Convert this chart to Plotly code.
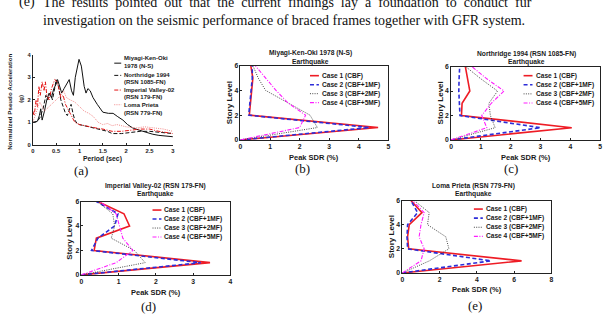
import plotly.graph_objects as go

W, H = 612, 317

# ---------------- Panel (a) data: normalized pseudo acceleration spectra ----------------
per_miyagi = [0, 0.05, 0.1, 0.14, 0.17, 0.2, 0.25, 0.3, 0.35, 0.4, 0.45, 0.5, 0.53, 0.58, 0.62, 0.67,
              0.72, 0.78, 0.83, 0.87, 0.91, 0.95, 0.99, 1.04, 1.1, 1.14, 1.18, 1.23, 1.29, 1.38, 1.44,
              1.5, 1.62, 1.72, 1.82, 1.93, 2.03, 2.14, 2.28, 2.43, 2.57, 2.7, 2.85, 3.0]
sa_miyagi = [1.0, 1.0, 1.05, 1.3, 1.6, 1.1, 1.5, 2.0, 2.3, 2.1, 2.5, 2.7, 2.9, 2.5, 2.3, 2.5,
             2.7, 2.9, 2.4, 2.2, 3.0, 3.4, 3.8, 3.5, 2.6, 2.3, 2.5, 2.4, 2.1, 1.8, 1.6,
             1.45, 1.4, 1.4, 1.25, 1.1, 0.9, 0.75, 0.65, 0.55, 0.47, 0.42, 0.38, 0.36]

per_north = [0, 0.1, 0.15, 0.22, 0.28, 0.32, 0.38, 0.42, 0.46, 0.5, 0.55, 0.6, 0.65, 0.7, 0.74,
             0.78, 0.82, 0.86, 0.9, 0.95, 1.0, 1.1, 1.2, 1.3, 1.4, 1.5, 1.6, 1.7, 1.9, 2.1, 2.3,
             2.5, 2.7, 3.0]
sa_north = [1.0, 1.05, 1.2, 1.6, 2.2, 2.0, 2.3, 2.0, 2.4, 2.9, 2.6, 2.0, 1.7, 1.4, 1.3,
            1.6, 1.8, 1.4, 1.1, 0.95, 0.9, 0.85, 0.8, 0.75, 0.7, 0.65, 0.6, 0.5, 0.5, 0.55, 0.6,
            0.6, 0.55, 0.5]

per_imp = [0, 0.03, 0.07, 0.1, 0.13, 0.16, 0.2, 0.24, 0.27, 0.3, 0.35, 0.4, 0.47, 0.52, 0.56,
           0.6, 0.65, 0.7, 0.75, 0.82, 0.9, 1.0, 1.1, 1.2, 1.35, 1.5, 1.7, 1.9, 2.1, 2.3, 2.5,
           2.7, 3.0]
sa_imp = [1.5, 1.3, 2.0, 1.7, 2.6, 2.2, 2.8, 2.4, 2.8, 2.2, 2.0, 2.5, 2.9, 2.8, 2.5,
          2.1, 2.2, 1.8, 1.6, 1.3, 1.0, 0.9, 0.85, 0.8, 0.75, 0.7, 0.6, 0.6, 0.65, 0.7, 0.7,
          0.6, 0.5]

per_loma = [0, 0.05, 0.1, 0.15, 0.2, 0.25, 0.3, 0.4, 0.5, 0.6, 0.66, 0.72, 0.8, 0.9, 1.0, 1.1,
            1.2, 1.3, 1.4, 1.5, 1.6, 1.7, 1.8, 2.0, 2.2, 2.4, 2.6, 2.8, 3.0]
sa_loma = [1.0, 1.3, 1.5, 1.9, 1.7, 1.5, 1.6, 1.8, 2.0, 2.2, 2.4, 2.1, 2.0, 1.9, 1.7, 1.5,
           1.4, 1.25, 1.0, 0.9, 0.95, 0.85, 0.9, 0.8, 0.75, 0.8, 0.75, 0.7, 0.6]

spectra_names = ["Miyagi-Ken-Oki<br>1978 (N-S)", "Northridge 1994<br>(RSN 1085-FN)",
                 "Imperial Valley-02<br>(RSN 179-FN)", "Loma Prieta<br>(RSN 779-FN)"]

# ---------------- Peak SDR data (story levels 0..6) ----------------
levels = [0, 1, 2, 3, 4, 5, 6]
case_names = ["Case 1 (CBF)", "Case 2 (CBF+1MF)", "Case 3 (CBF+2MF)", "Case 4 (CBF+5MF)"]

miyagi_sdr = [
    [0, 4.65, 0.30, 0.33, 0.38, 0.42, 0.35],
    [0, 4.35, 0.28, 0.32, 0.36, 0.40, 0.40],
    [0, 2.60, 2.35, 1.60, 0.85, 0.60, 0.42],
    [0, 2.00, 2.20, 1.60, 1.20, 0.85, 0.50],
]
north_sdr = [
    [0, 4.05, 0.35, 0.37, 0.63, 0.55, 0.48],
    [0, 3.00, 0.30, 0.28, 0.26, 0.27, 0.29],
    [0, 1.48, 1.32, 1.27, 1.56, 1.00, 0.49],
    [0, 1.20, 1.03, 1.35, 1.78, 1.20, 0.70],
]
imp_sdr = [
    [0, 3.45, 0.34, 0.40, 1.29, 1.14, 0.44],
    [0, 3.20, 0.27, 0.44, 0.89, 0.98, 0.40],
    [0, 1.71, 1.42, 0.80, 0.89, 0.84, 0.43],
    [0, 0.93, 1.38, 1.11, 1.02, 0.93, 0.49],
]
loma_sdr = [
    [0, 6.40, 0.34, 0.28, 0.37, 1.05, 0.46],
    [0, 4.75, 0.28, 0.25, 0.28, 0.82, 0.46],
    [0, 1.45, 2.50, 2.33, 1.35, 1.44, 0.64],
    [0, 1.00, 1.17, 0.90, 1.00, 1.17, 0.55],
]

# ---------------- styles ----------------
case_styles = [
    dict(color="#ee1c25", width=1.6, dash="solid"),
    dict(color="#2d2dd8", width=1.6, dash="4px,2.5px"),
    dict(color="#333333", width=0.9, dash="1px,1.3px"),
    dict(color="#ff1eff", width=1.1, dash="4px,1.5px,1px,1.5px"),
]
spec_styles = [
    dict(color="#111111", width=1.0, dash="solid"),
    dict(color="#111111", width=1.0, dash="4px,2px"),
    dict(color="#e41414", width=1.0, dash="4px,1.5px,1px,1.5px"),
    dict(color="#f07a7a", width=0.9, dash="1px,1.2px"),
]

SANS = "Liberation Sans, Arial, sans-serif"
SERIF = "Liberation Serif, Times New Roman, serif"
TXT = "#1a1a1a"


def fx(x):
    return x / W


def fy(y):
    return 1 - y / H


fig = go.Figure()

# Panel (a)
spectra = [(per_miyagi, sa_miyagi), (per_north, sa_north), (per_imp, sa_imp), (per_loma, sa_loma)]
for (px, sa), st in zip(spectra, spec_styles):
    fig.add_trace(go.Scatter(x=px, y=sa, mode="lines", line=st, xaxis="x", yaxis="y",
                             showlegend=False, hoverinfo="skip"))

# SDR panels
panels = [
    ("x2", "y2", miyagi_sdr),
    ("x3", "y3", north_sdr),
    ("x4", "y4", imp_sdr),
    ("x5", "y5", loma_sdr),
]
for xa, ya, data in panels:
    for vals, st in zip(data, case_styles):
        fig.add_trace(go.Scatter(x=vals, y=levels, mode="lines", line=st, xaxis=xa, yaxis=ya,
                                 showlegend=False, hoverinfo="skip"))

# axis geometry in pixels: (x0, x1, ytop, ybottom), ranges
geom = {
    1: (31, 172, 52, 144),
    2: (240, 389, 63, 139),
    3: (452, 602, 64, 139),
    4: (80, 230, 202, 277),
    5: (403, 553, 201, 275),
}
xranges = {1: [0, 3], 2: [0, 5], 3: [0, 5], 4: [0, 4], 5: [0, 8]}
xticks = {1: [0, 0.5, 1, 1.5, 2, 2.5, 3], 2: [0, 1, 2, 3, 4, 5], 3: [0, 1, 2, 3, 4, 5],
          4: [0, 1, 2, 3, 4], 5: [0, 2, 4, 6, 8]}

layout = dict(width=W, height=H, margin=dict(l=0, r=0, t=0, b=0),
              paper_bgcolor="white", plot_bgcolor="white", showlegend=False)

for i in range(1, 6):
    x0, x1, yt, yb = geom[i]
    sfx = "" if i == 1 else str(i)
    tf = dict(family=SANS, size=5.8 if i == 1 else 6.8, color=TXT, weight="bold")
    box = i != 1
    layout["xaxis" + sfx] = dict(domain=[fx(x0), fx(x1)], range=xranges[i], anchor="y" + sfx,
                                 tickvals=xticks[i], ticks="inside", ticklen=2, tickwidth=0.7,
                                 tickcolor="#222", showline=True, linecolor="#222", linewidth=0.8,
                                 mirror=box, showgrid=False, zeroline=False, tickfont=tf,
                                 fixedrange=True)
    layout["yaxis" + sfx] = dict(domain=[fy(yb), fy(yt)],
                                 range=[0, 4] if i == 1 else [0, 6], anchor="x" + sfx,
                                 tickvals=[0, 1, 2, 3, 4] if i == 1 else [0, 2, 4, 6],
                                 ticks="inside", ticklen=2, tickwidth=0.7, tickcolor="#222",
                                 showline=True, linecolor="#222", linewidth=0.8, mirror=box,
                                 showgrid=False, zeroline=False, tickfont=tf, fixedrange=True)

fig.update_layout(**layout)

ann = []
shapes = []


def text(x, y, s, size, family=SANS, bold=True, angle=0, xanchor="center", color=TXT):
    ann.append(dict(x=fx(x), y=fy(y), xref="paper", yref="paper", text=s, showarrow=False,
                    xanchor=xanchor, yanchor="middle", textangle=angle,
                    font=dict(family=family, size=size, color=color,
                              weight="bold" if bold else "normal")))


# Paragraph text at the top
NB = "\u00a0"
line1 = ("The results pointed out that the current findings lay a foundation to conduct fur").split(" ")
text(15, -2, "(e)", 14, SERIF, False, xanchor="left", color="#111")
text(39, -2, (NB + " ").join(line1), 14, SERIF, False, xanchor="left", color="#111")
text(39, 16.5, "investigation on the seismic performance of braced frames together with GFR system.",
     14, SERIF, False, xanchor="left", color="#111")

# Panel (a) labels
text(8, 100, "Normalized Pseudo Acceleration", 6.2, angle=-90)
text(19, 97, "(g)", 6.2, angle=-90)
text(101, 158, "Period (sec)", 6.8)
text(80, 170, "(a)", 13, SERIF, False, color="#111")

# Panel (a) legend
leg_a_rows = [(55.7, 60.5), (72.3, 73), (87.7, 88), (103.3, 103)]
for name, (ty, sy), st in zip(spectra_names, leg_a_rows, spec_styles):
    l1, l2 = name.split("<br>")
    text(121, ty, l1, 6, xanchor="left")
    text(121, ty + 7.8, l2, 6, xanchor="left")
    shapes.append(dict(type="line", xref="paper", yref="paper", x0=fx(113), x1=fx(120),
                       y0=fy(sy), y1=fy(sy), line=st))

# SDR panels titles, labels, legends
titles = ["Miyagi-Ken-Oki 1978 (N-S)", "Northridge 1994 (RSN 1085-FN)",
          "Imperial Valley-02 (RSN 179-FN)", "Loma Prieta (RSN 779-FN)"]
title_pos = {2: (311, 50), 3: (528, 51), 4: (155, 186), 5: (475, 186)}
ylab_x = {2: 229, 3: 441, 4: 68, 5: 392}
xlab_y = {2: 157, 3: 157, 4: 295, 5: 292}
plabel = {2: ("(b)", 302, 168.5), 3: ("(c)", 512, 168.5), 4: ("(d)", 147, 309), 5: ("(e)", 476, 308)}
leg_pos = {2: (320, 73.3, 9.2), 3: (535, 73.3, 9.3), 4: (161.5, 210.7, 9.2), 5: (485, 209.7, 9.3)}

for k, i in enumerate(range(2, 6)):
    x0, x1, yt, yb = geom[i]
    tx, ty = title_pos[i]
    text(tx, ty, titles[k], 6.7)
    text(tx, ty + 8.8, "Earthquake", 6.7)
    text(ylab_x[i], (yt + yb) / 2, "Story Level", 8, angle=-90)
    text((x0 + x1) / 2, xlab_y[i], "Peak SDR (%)", 7.5)
    s, px_, py_ = plabel[i]
    text(px_, py_, s, 13, SERIF, False, color="#111")
    lx, ly, dy = leg_pos[i]
    for j, (nm, st) in enumerate(zip(case_names, case_styles)):
        yy = ly + j * dy
        text(lx, yy, nm, 6.6, xanchor="left")
        shapes.append(dict(type="line", xref="paper", yref="paper", x0=fx(lx - 10), x1=fx(lx - 1),
                           y0=fy(yy), y1=fy(yy), line=st))

fig.update_layout(annotations=ann, shapes=shapes)
fig.write_html("out.html", config={"displayModeBar": False})
